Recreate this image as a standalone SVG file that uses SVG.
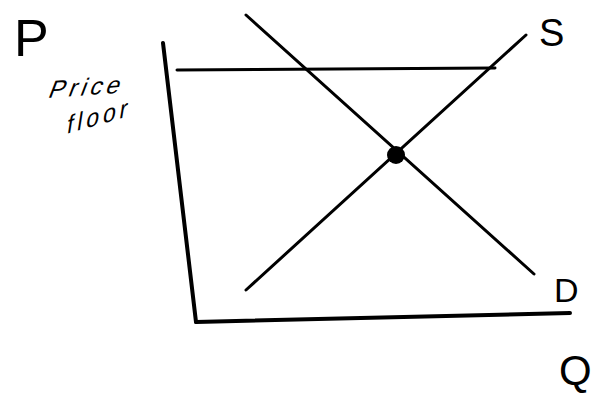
<svg xmlns="http://www.w3.org/2000/svg" width="609" height="395" viewBox="0 0 609 395">
<style>
.ln{stroke:#000;stroke-linecap:round;fill:none}
.ax{stroke-width:4}
.cv{stroke-width:3}
.t{font-family:"Liberation Sans",Arial,sans-serif;fill:#000}
</style>
<rect width="609" height="395" fill="#fff"/>
<g id="axes">
<path class="ln ax" d="M163,43 L196,322"/>
<path class="ln ax" d="M196,322 L570,313"/>
</g>
<g id="connectors">
<path id="price-floor-line" class="ln cv" d="M177,70 L495,68"/>
<path id="demand" class="ln cv" d="M246,15 L534,274"/>
<path id="supply" class="ln cv" d="M246,290 L526,35"/>
</g>
<g id="equilibrium"><circle cx="396" cy="155" r="9" fill="#000"/></g>
<g id="label-P"><text class="t" x="14" y="56" font-size="52">P</text></g>
<g id="label-price-floor">
<text class="t" font-size="24" letter-spacing="4" transform="translate(47,98) rotate(-4) skewX(-25)">Price</text>
<text class="t" font-size="24" letter-spacing="4" transform="translate(66,134) rotate(-16) skewX(-25)">floor</text>
</g>
<g id="label-S"><text class="t" x="539" y="46" font-size="38">S</text></g>
<g id="label-D"><text class="t" x="554" y="302" font-size="34">D</text></g>
<g id="label-Q"><text class="t" x="559" y="385" font-size="42">Q</text></g>
</svg>
